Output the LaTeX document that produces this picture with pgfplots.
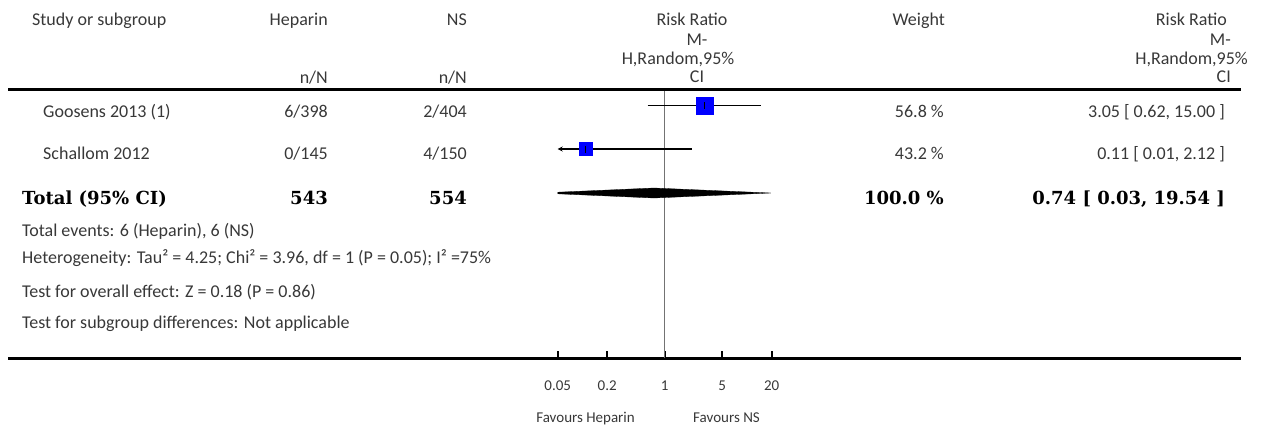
\documentclass[border=0pt]{standalone}
\usepackage{fontspec}
\setmainfont{Carlito}
\newfontfamily\boldserif{DejaVu Serif}
\usepackage{pgfplots}
\pgfplotsset{compat=1.18}
\usetikzlibrary{arrows.meta}
\newcommand\rf{\fontsize{18pt}{20pt}\selectfont}
\newcommand\tf{\fontsize{15pt}{17pt}\selectfont}
\newcommand\totf{\fontsize{18pt}{20pt}\boldserif\bfseries}
\begin{document}
\begin{tikzpicture}[x=1pt,y=1pt]
\useasboundingbox (0,0) rectangle (1268,-426);
% header
\begin{scope}[every node/.style={font=\rf, text=black!78, inner sep=0pt}]
\node[anchor=base west] at (32,-25) {Study or subgroup};
\node[anchor=base east] at (328,-25) {Heparin};
\node[anchor=base east] at (467,-25) {NS};
\node[anchor=base] at (692,-25) {Risk Ratio};
\node[anchor=base] at (697,-45) {M-};
\node[anchor=base] at (678,-64) {H,Random,95\%};
\node[anchor=base] at (697,-82) {CI};
\node[anchor=base east] at (945,-25) {Weight};
\node[anchor=base east] at (1227,-25) {Risk Ratio};
\node[anchor=base east] at (1231,-45) {M-};
\node[anchor=base east] at (1248,-64) {H,Random,95\%};
\node[anchor=base east] at (1231,-82) {CI};
\node[anchor=base east] at (328,-83) {n/N};
\node[anchor=base east] at (467,-83) {n/N};
% rows
\node[anchor=base west] at (43,-117) {Goosens 2013 (1)};
\node[anchor=base east] at (328,-117) {6/398};
\node[anchor=base east] at (467,-117) {2/404};
\node[anchor=base east] at (944,-117) {56.8 \%};
\node[anchor=base east] at (1225,-117) {3.05 [ 0.62, 15.00 ]};
\node[anchor=base west] at (43,-159) {Schallom 2012};
\node[anchor=base east] at (328,-159) {0/145};
\node[anchor=base east] at (467,-159) {4/150};
\node[anchor=base east] at (944,-159) {43.2 \%};
\node[anchor=base east] at (1225,-159) {0.11 [ 0.01, 2.12 ]};
% footer
\node[anchor=base west] at (22,-236) {Total events: 6 (Heparin), 6 (NS)};
\node[anchor=base west] at (22,-263) {Heterogeneity: Tau² = 4.25; Chi² = 3.96, df = 1 (P = 0.05); I² =75\%};
\node[anchor=base west] at (22,-297) {Test for overall effect: Z = 0.18 (P = 0.86)};
\node[anchor=base west] at (22,-328) {Test for subgroup differences: Not applicable};
\end{scope}
\begin{scope}[every node/.style={font=\totf, text=black, inner sep=0pt}]
\node[anchor=base west] at (22,-204) {Total (95\% CI)};
\node[anchor=base east] at (328,-204) {543};
\node[anchor=base east] at (467,-204) {554};
\node[anchor=base east] at (944,-204) {100.0 \%};
\node[anchor=base east] at (1225,-204) {0.74 [ 0.03, 19.54 ]};
\end{scope}
\node[font=\tf, text=black!78, inner sep=0pt, anchor=base east] at (635,-422) {Favours Heparin};
\node[font=\tf, text=black!78, inner sep=0pt, anchor=base west] at (693,-422) {Favours NS};
% rules
\draw[line width=3pt] (8,-89) -- (1241,-89);
\draw[line width=3pt] (8,-358) -- (1241,-358);
\begin{axis}[
  at={(557.7pt,-358pt)}, anchor=south west,
  scale only axis, width=214pt, height=269pt,
  xmode=log, xmin=0.05, xmax=20, ymin=-358, ymax=-89,
  enlargelimits=false,
  axis line style={draw=none},
  xtick={0.05,0.2,1,5,20}, xticklabels={0.05,0.2,1,5,20},
  ytick=\empty, xtick pos=bottom,
  tick align=inside, major tick length=7pt,
  xtick style={line width=1.8pt, black},
  xticklabel style={font=\tf, text=black!78, anchor=base, yshift=-32pt, inner sep=0pt},
]
\addplot[black!55, line width=0.9pt] coordinates {(1,-358) (1,-90.5)};
% squares
\addplot[only marks, mark=square*, mark size=8.5pt, mark options={fill=blue, draw=blue}] coordinates {(3.05,-105.5)};
\addplot[only marks, mark=square*, mark size=6.5pt, mark options={fill=blue, draw=blue}] coordinates {(0.11,-149)};
% CIs
\addplot[black, line width=1.3pt] coordinates {(0.62,-105.5) (15,-105.5)};
\addplot[black, line width=1.3pt, {Stealth[length=5pt,width=5pt]}-] coordinates {(0.05,-149) (2.12,-149)};
\addplot[only marks, mark=|, mark size=3.5pt, mark options={black, line width=0.8pt}] coordinates {(3.05,-105.5) (0.11,-149)};
% diamond
\addplot[fill=black, draw=black, line width=0.3pt] coordinates {(0.03,-193) (0.74,-188) (19.54,-193) (0.74,-198)} -- cycle;
\end{axis}
\end{tikzpicture}
\end{document}
